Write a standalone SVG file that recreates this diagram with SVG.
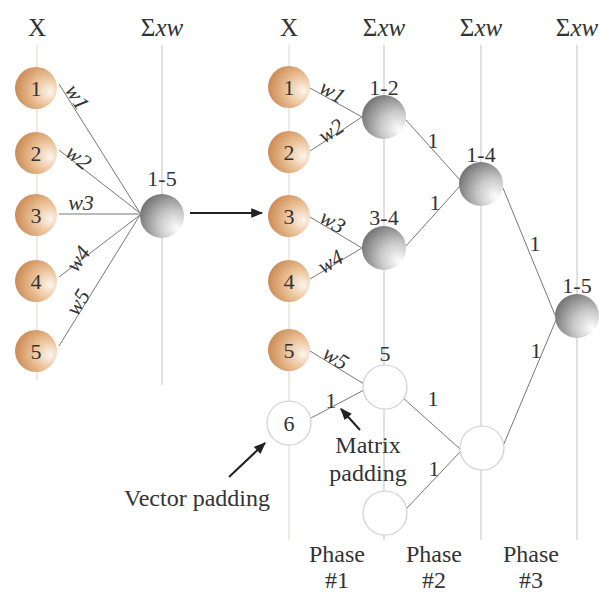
<svg xmlns="http://www.w3.org/2000/svg" width="611" height="592" viewBox="0 0 611 592">
<defs>
<radialGradient id="org" cx="0.7" cy="0.55" r="0.75" fx="0.85" fy="0.6">
<stop offset="0" stop-color="#fdf6ee"/>
<stop offset="0.45" stop-color="#ecc39a"/>
<stop offset="1" stop-color="#c8844c"/>
</radialGradient>
<radialGradient id="gry" cx="0.7" cy="0.65" r="0.8" fx="0.85" fy="0.8">
<stop offset="0" stop-color="#ffffff"/>
<stop offset="0.45" stop-color="#c8c8c8"/>
<stop offset="1" stop-color="#6a6a6a"/>
</radialGradient>
<marker id="ah" viewBox="0 0 10 10" refX="9" refY="5" markerWidth="6" markerHeight="6" orient="auto-start-reverse">
<path d="M0,1 L10,5 L0,9 z" fill="#222"/>
</marker>
</defs>
<style>
text{font-family:"Liberation Serif","Times New Roman",serif;fill:#333;text-anchor:middle}
.h{font-size:25px}
.n{font-size:22px}
.w{font-size:22px;font-style:italic}
.l{font-size:22px}
.a{font-size:24px}
.vl{stroke:#d0d0d0;stroke-width:1.3;fill:none}
.vx{stroke:#e6dcd8;stroke-width:1.3;fill:none}
.c{stroke:#777;stroke-width:1;fill:none}
.o{fill:url(#org)}
.g{fill:url(#gry)}
.e{fill:#fff;stroke:#cfcfcf;stroke-width:1.2}
.ar{stroke:#222;stroke-width:2;fill:none}
</style>
<rect width="611" height="592" fill="#fff"/>
<g id="grid">
<line class="vx" x1="37" y1="45" x2="37" y2="380"/>
<line class="vl" x1="162" y1="45" x2="162" y2="385"/>
<line class="vx" x1="289" y1="45" x2="289" y2="540"/>
<line class="vl" x1="384" y1="45" x2="384" y2="540"/>
<line class="vl" x1="481" y1="45" x2="481" y2="540"/>
<line class="vl" x1="577" y1="45" x2="577" y2="540"/>
</g>
<g id="headers">
<text class="h" x="37" y="36">X</text>
<text class="h" x="162" y="36">Σ<tspan font-style="italic">xw</tspan></text>
<text class="h" x="289" y="36">X</text>
<text class="h" x="384" y="36">Σ<tspan font-style="italic">xw</tspan></text>
<text class="h" x="481" y="36">Σ<tspan font-style="italic">xw</tspan></text>
<text class="h" x="577" y="36">Σ<tspan font-style="italic">xw</tspan></text>
</g>
<g id="connectors">
<line class="c" x1="59" y1="84" x2="140" y2="213"/>
<line class="c" x1="59" y1="150" x2="140" y2="213"/>
<line class="c" x1="59" y1="214" x2="140" y2="214"/>
<line class="c" x1="59" y1="277" x2="140" y2="215"/>
<line class="c" x1="59" y1="346" x2="140" y2="215"/>
<line class="ar" x1="190" y1="213" x2="262" y2="213" marker-end="url(#ah)"/>
<line class="c" x1="310" y1="88" x2="362" y2="117"/>
<line class="c" x1="310" y1="151" x2="362" y2="117"/>
<line class="c" x1="310" y1="217" x2="362" y2="248"/>
<line class="c" x1="310" y1="279" x2="362" y2="248"/>
<line class="c" x1="310" y1="351" x2="364" y2="384"/>
<line class="c" x1="311" y1="418" x2="364" y2="390" stroke="#bbb"/>
<line class="c" x1="406" y1="120" x2="460" y2="180"/>
<line class="c" x1="406" y1="246" x2="460" y2="186"/>
<line class="c" x1="503" y1="188" x2="555" y2="315"/>
<line class="c" x1="402" y1="397" x2="460" y2="449" stroke="#999"/>
<line class="c" x1="406" y1="509" x2="460" y2="452" stroke="#999"/>
<line class="c" x1="503" y1="446" x2="556" y2="320" stroke="#999"/>
<line class="ar" x1="229" y1="477" x2="265" y2="443" marker-end="url(#ah)"/>
<line class="ar" x1="360" y1="430" x2="341" y2="409" marker-end="url(#ah)"/>
</g>
<g id="weights">
<text class="w" transform="translate(71,101) rotate(58)">w1</text>
<text class="w" transform="translate(74,163) rotate(38)">w2</text>
<text class="w" x="81" y="210">w3</text>
<text class="w" transform="translate(84,263) rotate(-55)">w4</text>
<text class="w" transform="translate(84,306) rotate(-58)">w5</text>
<text class="w" transform="translate(329,98) rotate(29)">w1</text>
<text class="w" transform="translate(335,137) rotate(-33)">w2</text>
<text class="w" transform="translate(329,228) rotate(30)">w3</text>
<text class="w" transform="translate(334,268) rotate(-30)">w4</text>
<text class="w" transform="translate(332,364) rotate(31)">w5</text>
<text class="l" x="331" y="408">1</text>
<text class="l" x="433" y="148">1</text>
<text class="l" x="435" y="210">1</text>
<text class="l" x="535" y="251">1</text>
<text class="l" x="433" y="406">1</text>
<text class="l" x="434" y="476">1</text>
<text class="l" x="536" y="358">1</text>
</g>
<g id="L1"><circle class="o" cx="36" cy="88" r="21"/><text class="n" x="36" y="96">1</text></g>
<g id="L2"><circle class="o" cx="36" cy="153" r="21"/><text class="n" x="36" y="161">2</text></g>
<g id="L3"><circle class="o" cx="36" cy="215" r="21"/><text class="n" x="36" y="223">3</text></g>
<g id="L4"><circle class="o" cx="36" cy="281" r="21"/><text class="n" x="36" y="289">4</text></g>
<g id="L5"><circle class="o" cx="36" cy="351" r="21"/><text class="n" x="36" y="359">5</text></g>
<g id="Lsum"><circle class="g" cx="162" cy="216" r="22"/><text class="n" x="162" y="186">1-5</text></g>
<g id="R1"><circle class="o" cx="289" cy="87" r="21"/><text class="n" x="289" y="95">1</text></g>
<g id="R2"><circle class="o" cx="289" cy="152" r="21"/><text class="n" x="289" y="160">2</text></g>
<g id="R3"><circle class="o" cx="289" cy="216" r="21"/><text class="n" x="289" y="224">3</text></g>
<g id="R4"><circle class="o" cx="289" cy="281" r="21"/><text class="n" x="289" y="289">4</text></g>
<g id="R5"><circle class="o" cx="289" cy="350" r="21"/><text class="n" x="289" y="358">5</text></g>
<g id="R6"><circle class="e" cx="289" cy="423" r="22"/><text class="n" x="289" y="431">6</text></g>
<g id="S12"><circle class="g" cx="384" cy="117" r="22"/><text class="n" x="384" y="95">1-2</text></g>
<g id="S34"><circle class="g" cx="384" cy="248" r="22"/><text class="n" x="384" y="225">3-4</text></g>
<g id="S5"><circle class="e" cx="385" cy="387" r="22"/><text class="n" x="385" y="361">5</text></g>
<g id="Spad"><circle class="e" cx="385" cy="513" r="22"/></g>
<g id="S14"><circle class="g" cx="481" cy="184" r="22"/><text class="n" x="481" y="162">1-4</text></g>
<g id="Sp2"><circle class="e" cx="482" cy="448" r="22"/></g>
<g id="S15"><circle class="g" cx="577" cy="316" r="22"/><text class="n" x="577" y="293">1-5</text></g>
<g id="labels">
<text class="a" x="197" y="506">Vector padding</text>
<text class="a" x="368" y="453">Matrix</text>
<text class="a" x="368" y="481">padding</text>
<text class="a" x="337" y="562">Phase</text>
<text class="a" x="337" y="588">#1</text>
<text class="a" x="434" y="562">Phase</text>
<text class="a" x="434" y="588">#2</text>
<text class="a" x="531" y="562">Phase</text>
<text class="a" x="531" y="588">#3</text>
</g>
</svg>
